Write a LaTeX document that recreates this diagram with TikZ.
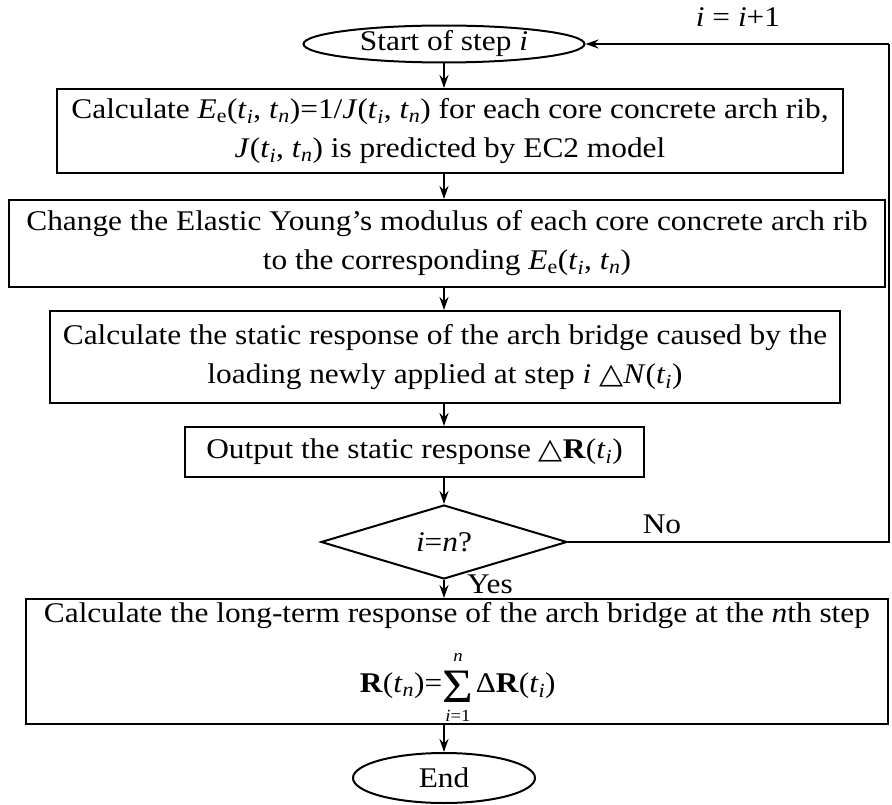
\documentclass[tikz,border=0pt]{standalone}
\usepackage{fontspec}
\setmainfont{Liberation Serif}[FakeStretch=1.1]
\newfontfamily\trifont{DejaVu Sans}[FakeStretch=1.1]
\usetikzlibrary{shapes.geometric,arrows.meta}
% italic t with italic subscript
\newcommand{\tsub}[1]{\textit{t}\textsubscript{\textit{#1}}}
\newcommand{\tri}{{\trifont △}}
\begin{document}
\begin{tikzpicture}[x=1pt,y=-1pt,
  every node/.style={font=\fontsize{28.5}{39}\selectfont,inner sep=1pt},
  procbox/.style={draw,line width=2pt,inner sep=0pt,align=center},
  term/.style={draw,ellipse,line width=2pt,inner sep=0pt},
  decision/.style={draw,diamond,line width=2pt,inner sep=0pt,aspect=3.3},
  flow/.style={line width=2pt,-{Stealth[length=13pt,width=9pt]}},
  plain/.style={line width=2pt},
  limit/.style={font=\fontsize{17}{17}\selectfont,inner sep=0pt,text depth=0pt}]
\useasboundingbox (0,0) rectangle (892,805);

% terminals, process boxes and the decision
\node[term,minimum width=281,minimum height=34] (start) at (444,44) {Start of step \textit{i}};
\node[procbox,minimum width=786,minimum height=84] (calc) at (450,131)
  {Calculate \textit{E}\textsubscript{e}(\tsub{i}, \tsub{n})=1/\textit{J}(\tsub{i}, \tsub{n}) for each core concrete arch rib,\\
   \textit{J}(\tsub{i}, \tsub{n}) is predicted by EC2 model};
\node[procbox,minimum width=876,minimum height=87] (change) at (447,243.5)
  {Change the Elastic Young’s modulus of each core concrete arch rib\\
   to the corresponding \textit{E}\textsubscript{e}(\tsub{i}, \tsub{n})};
\node[procbox,minimum width=790,minimum height=92] (static) at (445,357)
  {Calculate the static response of the arch bridge caused by the\\
   loading newly applied at step \textit{i} \tri\textit{N}(\tsub{i})};
\node[procbox,minimum width=459,minimum height=50] (out) at (414.5,452)
  {Output the static response \tri\textbf{R}(\tsub{i})};
\node[decision,minimum width=246,minimum height=74] (test) at (444,542) {\textit{i}=\textit{n}?};
\node[procbox,minimum width=862,minimum height=125] (longterm) at (457,661.5) {};
\node (ltext) at (457,616) {Calculate the long-term response of the arch bridge at the \textit{n}th step};

% the summation: sign, limits and the two sides
\node[inner sep=0pt,font=\fontsize{48}{48}\selectfont,text height=32pt,text depth=0pt] (sigma) at (458,686) {Σ};
\node[limit,text height=8pt] (upper) at (458,657) {\textit{n}};
\node[limit,text height=11.5pt] (lower) at (458,715.5) {\textit{i}=1};
\node[anchor=east,inner sep=0pt] (lhs) at (sigma.west) {\textbf{R}(\tsub{n})=};
\node[anchor=west,inner sep=0pt] (rhs) at ([xshift=2pt]sigma.east) {Δ\textbf{R}(\tsub{i})};

\node[term,minimum width=182,minimum height=50] (end) at (444,778) {End};

% main flow, all on the vertical line through the terminals
\draw[flow] (start.south) -- (start.south |- calc.north);
\draw[flow] (calc.south -| start) -- (change.north -| start);
\draw[flow] (change.south -| start) -- (static.north -| start);
\draw[flow] (static.south -| start) -- (out.north -| start);
\draw[flow] (out.south -| start) -- (test.north);
\draw[flow] (test.south) -- (longterm.north -| start);
\draw[flow] (longterm.south -| start) -- (end.north);

% loop back for the next step
\coordinate (rb) at (889,542);
\coordinate (rt) at (889,44);
\draw[plain] (test.east) -- (rb) -- (rt);
\draw[flow] (rt) -- (start.east);
\node (no) at (662,524) {No};
\node[anchor=west] (yes) at (466,584) {Yes};
\node (inc) at (738,17) {\textit{i} = \textit{i}+1};
\end{tikzpicture}
\end{document}
